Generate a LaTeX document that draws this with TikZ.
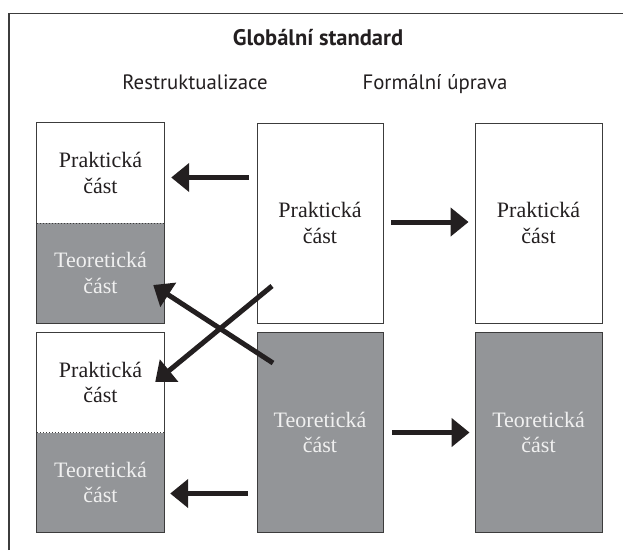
\documentclass[tikz,border=0pt]{standalone}
\usepackage{fontspec}
\setmainfont{Liberation Serif}
\newfontfamily\hdfont{PT Sans}
\usetikzlibrary{arrows.meta}
\definecolor{boxgrey}{RGB}{147,149,152}
\definecolor{ink}{RGB}{35,31,32}
\definecolor{lineclr}{RGB}{60,60,60}
\tikzset{
  wbox/.style={fill=white, draw=lineclr, line width=0.9pt, text=ink, align=center,
    font=\fontsize{22}{25.5}\selectfont, inner sep=0pt},
  gbox/.style={wbox, fill=boxgrey, text=white!94!black},
  halfw/.style={fill=white, text=ink, align=center, inner sep=0pt,
    font=\fontsize{22}{25.5}\selectfont, minimum width=127pt, minimum height=100pt},
  halfg/.style={halfw, fill=boxgrey, text=white!94!black},
  bigarrow/.style={draw=ink, line width=5pt, -{Triangle[length=18pt,width=28pt]}},
  hdr/.style={font=\hdfont\fontsize{20.8}{24}\selectfont, text=ink, inner sep=0pt, anchor=base},
}
\begin{document}
\begin{tikzpicture}[x=1pt,y=-1pt]
\useasboundingbox (0,0) rectangle (623,550);
% frame (only left and top visible)
\draw[lineclr, line width=1.8pt] (9,550) -- (9,13.5) -- (623,13.5);
% headers
\node[hdr, font=\hdfont\bfseries\fontsize{22.5}{26}\selectfont] (title) at (318,45) {Globální standard};
\node[hdr] (restr) at (195,89) {Restruktualizace};
\node[hdr] (form) at (435,89) {Formální úprava};
% left stacked boxes
\node[halfw] (lt1) at (100.5,173) {Praktická\\část};
\node[halfg] (lt2) at (100.5,273) {Teoretická\\část};
\node[halfw] (lb1) at (100.5,382.5) {Praktická\\část};
\node[halfg] (lb2) at (100.5,482.5) {Teoretická\\část};
\draw[lineclr, line width=0.9pt] (lt1.north west) rectangle (lt2.south east);
\draw[lineclr, line width=0.9pt] (lb1.north west) rectangle (lb2.south east);
\draw[lineclr, line width=1pt, dotted] (lt1.south west) -- (lt1.south east);
\draw[lineclr, line width=1pt, dotted] (lb1.south west) -- (lb1.south east);
% middle boxes
\node[wbox, minimum width=126pt, minimum height=200pt] (mt) at (320,223) {Praktická\\část};
\node[gbox, minimum width=126pt, minimum height=200pt] (mb) at (320,432.5) {Teoretická\\část};
% right boxes
\node[wbox, minimum width=127pt, minimum height=200pt] (rt) at (538.5,223) {Praktická\\část};
\node[gbox, minimum width=127pt, minimum height=200pt] (rb) at (538.5,432.5) {Teoretická\\část};
% arrows
\draw[bigarrow] ([xshift=-8pt,yshift=-4.5pt]mt.west |- lt1.east) -- ([xshift=7pt,yshift=-4.5pt]lt1.east);
\draw[bigarrow] ([xshift=-9pt,yshift=-11pt]mb.west |- lb2.east) -- ([xshift=6pt,yshift=-11pt]lb2.east);
\draw[bigarrow] ([xshift=8pt,yshift=1pt]mt.east) -- ([xshift=-6pt,yshift=1pt]rt.west);
\draw[bigarrow] ([xshift=9pt]mb.east) -- ([xshift=-5pt]rb.west);
\coordinate (d1s) at (272,286);
\coordinate (d2s) at (273,363);
\draw[bigarrow] (d1s) -- ([xshift=-9pt,yshift=-2pt]lb1.north east |- 0,380);
\draw[bigarrow] (d2s) -- ([xshift=-11pt]lt2.east |- 0,285);
\end{tikzpicture}
\end{document}
